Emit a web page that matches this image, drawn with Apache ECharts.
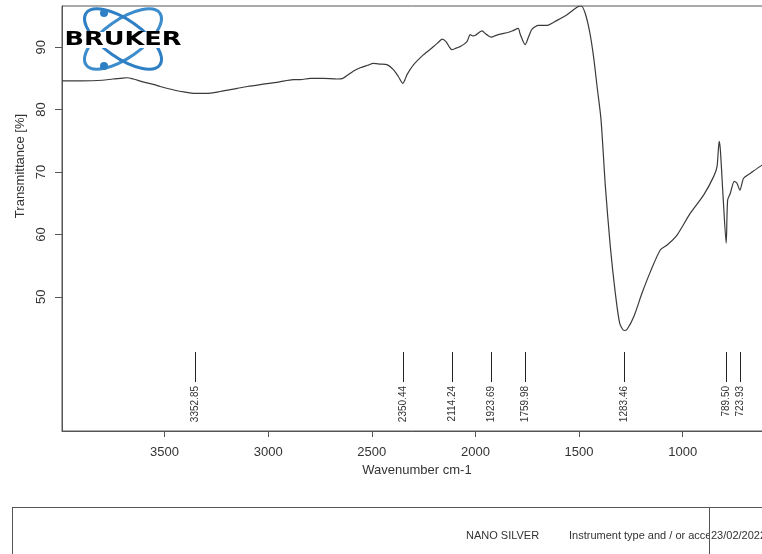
<!DOCTYPE html>
<html>
<head>
<meta charset="utf-8">
<script src="https://cdn.jsdelivr.net/npm/echarts@6/dist/echarts.min.js"></script>
<style>
  html, body { margin: 0; padding: 0; background: #ffffff; }
  #chart { width: 762px; height: 554px; }
</style>
</head>
<body>
<div id="chart"></div>
<script>
// FT-IR transmittance spectrum of the NANO SILVER sample
const wavenumbers = [
  3995, 3900, 3800, 3750, 3714, 3680, 3651, 3600, 3550, 3521,
  3450, 3400, 3353, 3300, 3231, 3150, 3100, 3038, 2950, 2879,
  2845, 2797, 2734, 2668, 2640, 2588, 2556, 2520, 2492, 2460,
  2427, 2396, 2372, 2350, 2340, 2330, 2298, 2250, 2202, 2175,
  2161, 2142, 2125, 2114, 2090, 2073, 2041, 2025, 2012, 2000,
  1968, 1950, 1936, 1924, 1900, 1880, 1840, 1816, 1794, 1783,
  1760, 1743, 1727, 1695, 1654, 1606, 1558, 1510, 1489, 1470,
  1449, 1430, 1413, 1394, 1373, 1349, 1325, 1304, 1283, 1268,
  1236, 1196, 1156, 1108, 1075, 1027, 963, 899, 850, 834,
  824, 818, 805, 790, 783, 770, 751, 738, 724, 706,
  673, 617, 600
];
const transmittance = [
  84.6, 84.6, 84.7, 84.9, 85.0, 85.1, 84.9, 84.4, 84.0, 83.7,
  83.1, 82.8, 82.6, 82.6, 82.9, 83.4, 83.7, 84.0, 84.4, 84.8,
  84.8, 85.0, 85.0, 84.9, 85.0, 86.2, 86.7, 87.1, 87.4, 87.3,
  87.2, 86.4, 85.3, 84.2, 84.8, 85.6, 87.2, 88.8, 90.1, 90.9,
  91.3, 90.9, 90.0, 89.6, 89.9, 90.1, 90.9, 92.0, 91.8, 91.9,
  92.6, 92.1, 91.8, 91.6, 91.9, 92.1, 92.4, 92.7, 93.0, 92.0,
  90.4, 91.7, 92.9, 93.5, 93.5, 94.3, 95.2, 96.4, 96.6, 95.4,
  92.5, 88.5, 83.7, 78.4, 67.7, 58.0, 50.6, 45.8, 44.6, 44.8,
  46.8, 50.6, 54.0, 57.5, 58.3, 59.9, 63.4, 66.3, 69.3, 70.9,
  74.9, 73.5, 66.1, 58.6, 65.5, 66.6, 68.5, 68.2, 67.1, 69.0,
  69.8, 71.1, 71.3
];

// Picked peaks (wavenumber, printed label)
const peakPositions = [3352.85, 2350.44, 2114.24, 1923.69, 1759.98, 1283.46, 789.50, 723.93];
const peakLabels = ['3352.85', '2350.44', '2114.24', '1923.69', '1759.98', '1283.46', '789.50', '723.93'];

const xTickValues = [3500, 3000, 2500, 2000, 1500, 1000, 500];
const yTickValues = [50, 60, 70, 80, 90];

const xTitle = 'Wavenumber cm-1';
const yTitle = 'Transmittance [%]';
const sampleName = 'NANO SILVER';
const instrumentText = 'Instrument type and / or accessory';
const measuredDate = '23/02/2022';
const brandName = 'BRUKER';

const AXIS_COLOR = '#555555';
const TEXT_COLOR = '#333333';
const FONT = '"Liberation Sans", Arial, sans-serif';
const LOGO_BLUE = '#3d8ccb';

const chart = echarts.init(document.getElementById('chart'), null, { renderer: 'canvas' });

const spectrum = wavenumbers.map((w, i) => [w, transmittance[i]]);

const option = {
  animation: false,
  backgroundColor: '#ffffff',
  grid: {
    left: 62, top: 6, right: -45, bottom: 123,
    show: true, borderColor: AXIS_COLOR, borderWidth: 1,
    containLabel: false, outerBoundsMode: 'none'
  },
  xAxis: {
    type: 'value', inverse: true, min: 400, max: 3995,
    axisLine: { show: true, lineStyle: { color: AXIS_COLOR, width: 1 } },
    axisTick: { show: true, length: 6, customValues: xTickValues, lineStyle: { color: AXIS_COLOR } },
    axisLabel: {
      customValues: xTickValues, margin: 15, color: TEXT_COLOR,
      fontSize: 13, fontFamily: FONT, formatter: v => String(v)
    },
    splitLine: { show: false }
  },
  yAxis: {
    type: 'value', min: 28.5, max: 96.6,
    axisLine: { show: true, lineStyle: { color: AXIS_COLOR, width: 1 } },
    axisTick: { show: true, length: 7, customValues: yTickValues, lineStyle: { color: AXIS_COLOR } },
    axisLabel: {
      customValues: yTickValues, rotate: 90, margin: 14, color: TEXT_COLOR,
      fontSize: 13, fontFamily: FONT, formatter: v => String(v)
    },
    splitLine: { show: false }
  },
  series: [
    {
      type: 'line',
      data: spectrum,
      showSymbol: false,
      smooth: 0.25,
      lineStyle: { color: '#3a3a3a', width: 1.2 },
      silent: true
    },
    {
      type: 'custom',
      data: peakPositions.map(w => [w]),
      clip: false,
      silent: true,
      renderItem(params, api) {
        const x = Math.round(api.coord([api.value(0), 50])[0]) + 0.5;
        const bottom = params.coordSys.y + params.coordSys.height;
        return {
          type: 'group',
          children: [
            {
              type: 'line',
              shape: { x1: x, y1: bottom - 79, x2: x, y2: bottom - 49 },
              style: { stroke: '#222222', lineWidth: 1 }
            },
            {
              type: 'text',
              x: x, y: bottom - 45, rotation: Math.PI / 2,
              style: {
                text: peakLabels[params.dataIndex],
                align: 'right', verticalAlign: 'middle',
                fill: TEXT_COLOR, font: '10px ' + FONT
              }
            }
          ]
        };
      }
    }
  ],
  graphic: [
    // axis titles
    {
      type: 'text', x: 417, y: 470,
      style: { text: xTitle, align: 'center', verticalAlign: 'middle', fill: TEXT_COLOR, font: '13px ' + FONT }
    },
    {
      type: 'text', x: 20, y: 166, rotation: Math.PI / 2,
      style: { text: yTitle, align: 'center', verticalAlign: 'middle', fill: TEXT_COLOR, font: '13px ' + FONT }
    },
    // brand logo: two crossing orbits, electrons and the wordmark
    {
      type: 'group',
      children: [
        { type: 'ellipse', x: 123, y: 39, rotation: 0.61, shape: { cx: 0, cy: 0, rx: 45, ry: 19 },
          style: { fill: 'none', stroke: LOGO_BLUE, lineWidth: 3 } },
        { type: 'ellipse', x: 123, y: 39, rotation: -0.61, shape: { cx: 0, cy: 0, rx: 45, ry: 19 },
          style: { fill: 'none', stroke: '#2f7fc4', lineWidth: 3 } },
        { type: 'circle', shape: { cx: 104, cy: 13, r: 4 }, style: { fill: '#2f7fc4' } },
        { type: 'circle', shape: { cx: 104, cy: 66, r: 4 }, style: { fill: '#2f7fc4' } },
        { type: 'rect', shape: { x: 64, y: 32, width: 118, height: 16 }, style: { fill: '#ffffff' } },
        { type: 'text', x: 123, y: 39.5, scaleX: 1.28,
          style: { text: brandName, align: 'center', verticalAlign: 'middle', fill: '#000000',
                   font: 'bold 20px "DejaVu Sans", sans-serif' } }
      ]
    },
    // report footer: a table row whose date cell cuts off the long instrument text
    {
      type: 'group',
      children: [
        { type: 'text', x: 466, y: 536,
          style: { text: sampleName, align: 'left', verticalAlign: 'middle', fill: TEXT_COLOR, font: '11px ' + FONT } },
        { type: 'text', x: 569, y: 536,
          style: { text: instrumentText, align: 'left', verticalAlign: 'middle', fill: TEXT_COLOR, font: '11px ' + FONT } },
        { type: 'rect', shape: { x: 710, y: 508, width: 52, height: 46 }, style: { fill: '#ffffff' } },
        { type: 'line', shape: { x1: 12, y1: 507.5, x2: 762, y2: 507.5 }, style: { stroke: AXIS_COLOR, lineWidth: 1 } },
        { type: 'line', shape: { x1: 12.5, y1: 507, x2: 12.5, y2: 554 }, style: { stroke: AXIS_COLOR, lineWidth: 1 } },
        { type: 'line', shape: { x1: 709.5, y1: 507, x2: 709.5, y2: 554 }, style: { stroke: AXIS_COLOR, lineWidth: 1 } },
        { type: 'text', x: 711, y: 536,
          style: { text: measuredDate, align: 'left', verticalAlign: 'middle', fill: TEXT_COLOR, font: '11px ' + FONT } }
      ]
    }
  ]
};

chart.setOption(option);
</script>
</body>
</html>
